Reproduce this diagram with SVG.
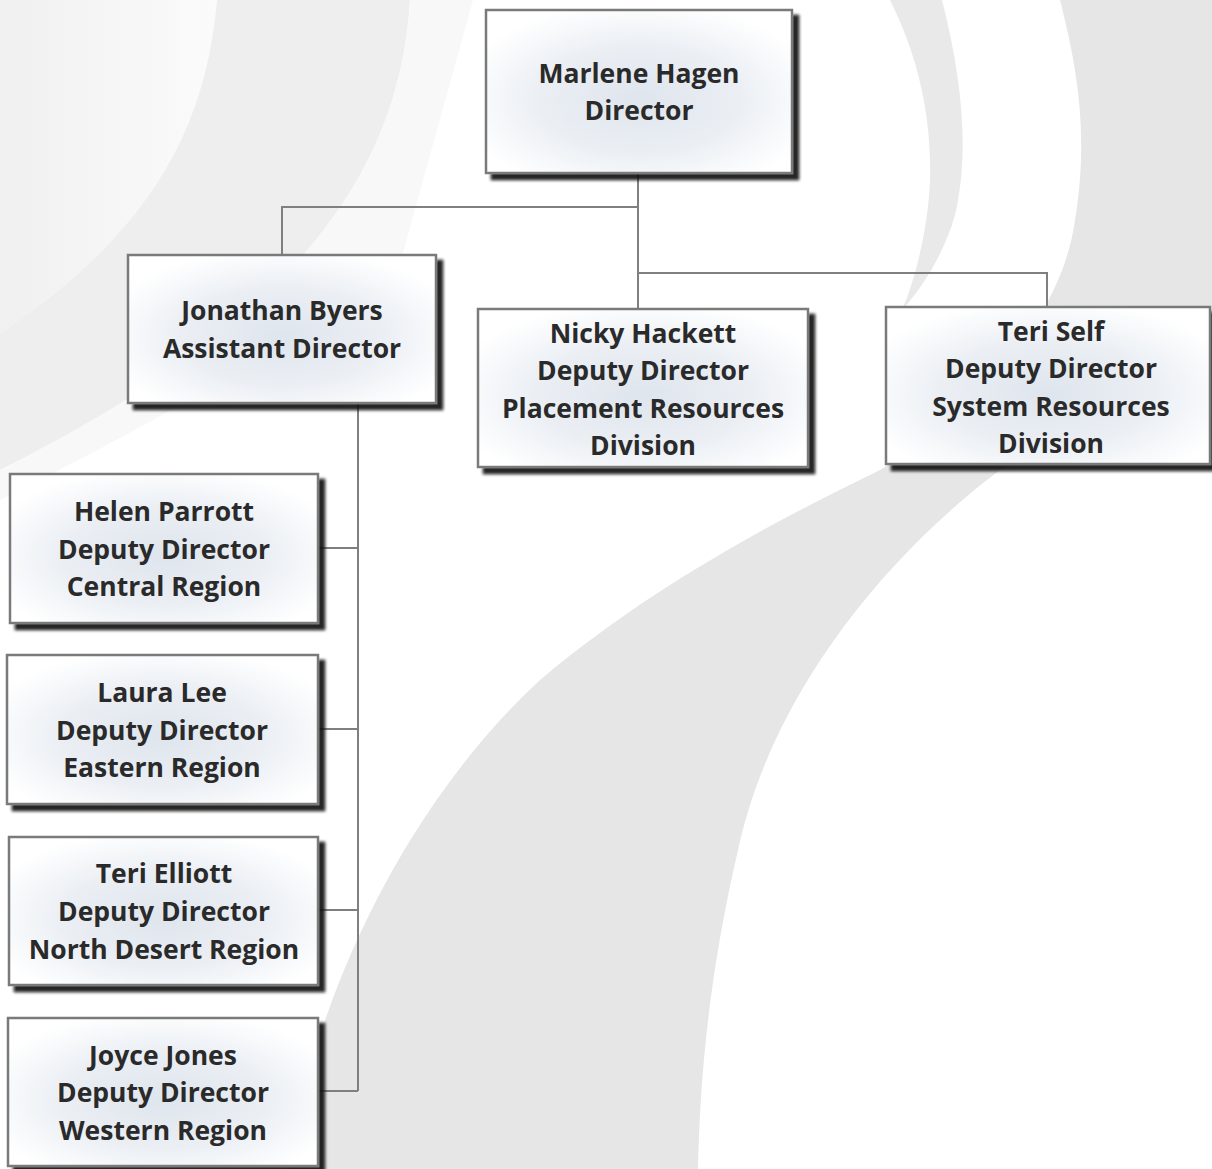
<svg xmlns="http://www.w3.org/2000/svg" width="1212" height="1169" viewBox="0 0 1212 1169">
<defs>
<style>
.box{fill:url(#bg);stroke:#7a7a7a;stroke-width:2.5;filter:url(#sh)}
.t{font-family:"Open Sans","Liberation Sans",sans-serif;font-weight:bold;font-size:26.5px;fill:#2a2a2a;text-anchor:middle}
.c{stroke:#7f7f7f;stroke-width:2;fill:none}
.sw{fill:#e6e6e6}
</style>
<radialGradient id="bg" cx="50%" cy="55%" r="60%">
<stop offset="0" stop-color="#dfe5ed"/>
<stop offset="0.55" stop-color="#ebeff4"/>
<stop offset="1" stop-color="#ffffff"/>
</radialGradient>
<linearGradient id="tl" x1="0" y1="0" x2="1" y2="0">
<stop offset="0" stop-color="#f0f0f0"/>
<stop offset="1" stop-color="#fbfbfb"/>
</linearGradient>
<filter id="sh" x="-10%" y="-10%" width="125%" height="130%">
<feDropShadow dx="6" dy="6" stdDeviation="1.6" flood-color="#111111" flood-opacity="0.9"/>
</filter>
</defs>
<rect width="1212" height="1169" fill="#ffffff"/>
<g id="background">
<path d="M0,0 L217,0 C205,140 140,240 0,333 Z" fill="url(#tl)"/>
<path d="M217,0 L410,0 C400,170 300,320 0,470 L0,333 C140,240 205,140 217,0 Z" fill="#eeeeee"/>
<path d="M410,0 L473,0 L403,253 C330,320 200,400 0,500 L0,470 C300,320 400,170 410,0 Z" fill="#f8f8f8"/>
<path class="sw" d="M1060,0 L1212,0 L1212,400 L1000,470 C880,560 770,700 738,850 C708,980 700,1080 698,1169 L288,1169 C315,990 410,800 540,680 C670,570 820,500 880,470 C960,420 1060,330 1075,220 C1090,130 1075,60 1060,0 Z"/>
<path d="M890,0 L942,0 C965,90 968,160 955,215 C945,250 925,285 902,310 C915,280 928,230 930,180 C932,110 915,50 890,0 Z" fill="#e9e9e9"/>
</g>
<g id="connectors">
<path class="c" d="M638,173 V309"/>
<path class="c" d="M638,207 H282 V255"/>
<path class="c" d="M638,273 H1047 V307"/>
<path class="c" d="M358,403 V1091"/>
<path class="c" d="M318,548 H358"/>
<path class="c" d="M318,729 H358"/>
<path class="c" d="M318,910 H358"/>
<path class="c" d="M318,1091 H358"/>
</g>
<g id="node-marlene">
<rect class="box" x="486" y="10" width="306" height="163"/>
<text class="t" x="639" y="83">Marlene Hagen</text>
<text class="t" x="639" y="120">Director</text>
</g>
<g id="node-jonathan">
<rect class="box" x="128" y="255" width="308" height="148"/>
<text class="t" x="282" y="320">Jonathan Byers</text>
<text class="t" x="282" y="358">Assistant Director</text>
</g>
<g id="node-nicky">
<rect class="box" x="478" y="309" width="330" height="158"/>
<text class="t" x="643" y="343">Nicky Hackett</text>
<text class="t" x="643" y="380">Deputy Director</text>
<text class="t" x="643" y="418">Placement Resources</text>
<text class="t" x="643" y="455">Division</text>
</g>
<g id="node-teri-self">
<rect class="box" x="886" y="307" width="324" height="157"/>
<text class="t" x="1051" y="341">Teri Self</text>
<text class="t" x="1051" y="378">Deputy Director</text>
<text class="t" x="1051" y="416">System Resources</text>
<text class="t" x="1051" y="453">Division</text>
</g>
<g id="node-helen">
<rect class="box" x="10" y="474" width="308" height="149"/>
<text class="t" x="164" y="521">Helen Parrott</text>
<text class="t" x="164" y="559">Deputy Director</text>
<text class="t" x="164" y="596">Central Region</text>
</g>
<g id="node-laura">
<rect class="box" x="7" y="655" width="311" height="149"/>
<text class="t" x="162" y="702">Laura Lee</text>
<text class="t" x="162" y="740">Deputy Director</text>
<text class="t" x="162" y="777">Eastern Region</text>
</g>
<g id="node-teri-elliott">
<rect class="box" x="9" y="837" width="309" height="148"/>
<text class="t" x="164" y="883">Teri Elliott</text>
<text class="t" x="164" y="921">Deputy Director</text>
<text class="t" x="164" y="959">North Desert Region</text>
</g>
<g id="node-joyce">
<rect class="box" x="8" y="1018" width="310" height="148"/>
<text class="t" x="163" y="1065">Joyce Jones</text>
<text class="t" x="163" y="1102">Deputy Director</text>
<text class="t" x="163" y="1140">Western Region</text>
</g>
</svg>
